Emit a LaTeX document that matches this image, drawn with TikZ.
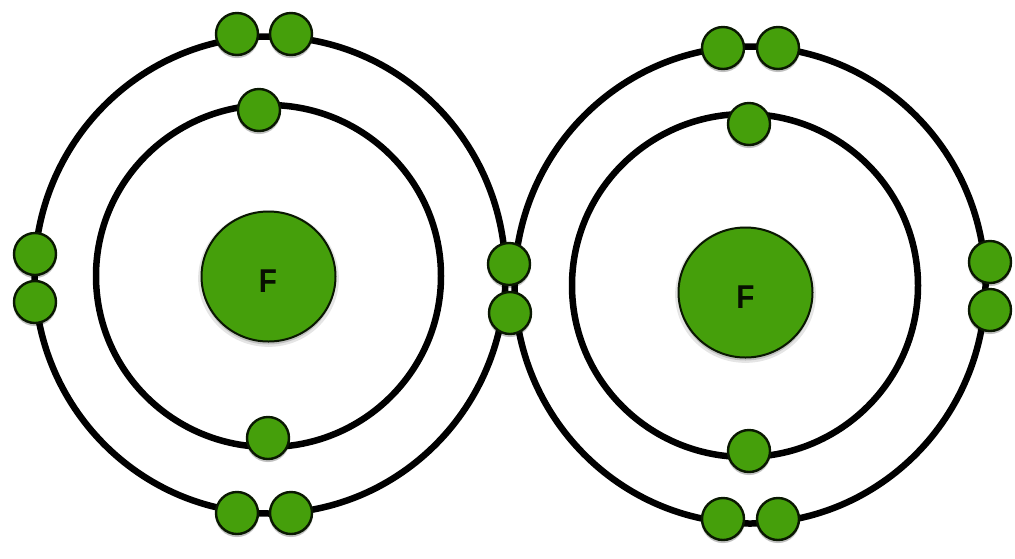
\documentclass[tikz,border=0pt]{standalone}
\usepackage{fontspec}
\setmainfont{Liberation Sans}
\usetikzlibrary{shapes.geometric,shadows}
\definecolor{atomgreen}{HTML}{459F0B}
\tikzset{
  x=1pt,y=-1pt,
  softshadow/.style={
    drop shadow={shadow xshift=0pt,shadow yshift=-2pt,shadow scale=1.05,opacity=.10,fill=black},
    drop shadow={shadow xshift=0pt,shadow yshift=-3pt,opacity=.16,fill=black}},
  shell/.style={draw=black,line width=6.5pt,ellipse,outer sep=0pt,minimum width=#1,inner sep=0pt},
  electron/.style={circle,draw=black!85!atomgreen,line width=2.4pt,fill=atomgreen,minimum size=42pt,inner sep=0pt,softshadow},
  nucleus/.style={ellipse,draw=black!85!atomgreen,line width=2pt,fill=atomgreen,minimum width=134pt,minimum height=130pt,inner sep=0pt,softshadow},
  symbol/.style={font=\bfseries\fontsize{33}{33}\selectfont,text=black!90!atomgreen,inner sep=0pt,xscale=.9}
}
\begin{document}
\begin{tikzpicture}
\useasboundingbox (0,0) rectangle (1015,558);
% shells
\node[shell=471pt,minimum height=477pt] (outerL) at (270,275) {};
\node[shell=345pt,minimum height=342pt] (innerL) at (268.5,276) {};
\node[shell=471pt,minimum height=477pt] (outerR) at (750,285) {};
\node[shell=346pt,minimum height=343pt] (innerR) at (745,285.5) {};
% nuclei
\node[nucleus] (nucL) at (268.5,276.5) {};
\node[nucleus] (nucR) at (745.5,292.5) {};
\node[symbol] (fL) at (268,281) {F};
\node[symbol] (fR) at (745.5,297) {F};
% left atom electrons
\node[electron] (l1) at (237,34) {};
\node[electron] (l2) at (291,34) {};
\node[electron] (l3) at (259,110) {};
\node[electron] (l4) at (35,254) {};
\node[electron] (l5) at (35,302) {};
\node[electron] (l6) at (268,438) {};
\node[electron] (l7) at (237,513) {};
\node[electron] (l8) at (291,513) {};
% shared pair
\node[electron] (s1) at (509,264) {};
\node[electron] (s2) at (510,313) {};
% right atom electrons
\node[electron] (r1) at (723,48) {};
\node[electron] (r2) at (778,48) {};
\node[electron] (r3) at (749,124) {};
\node[electron] (r4) at (990,262) {};
\node[electron] (r5) at (990,310) {};
\node[electron] (r6) at (749,451) {};
\node[electron] (r7) at (723,519) {};
\node[electron] (r8) at (778,519) {};
\end{tikzpicture}
\end{document}
